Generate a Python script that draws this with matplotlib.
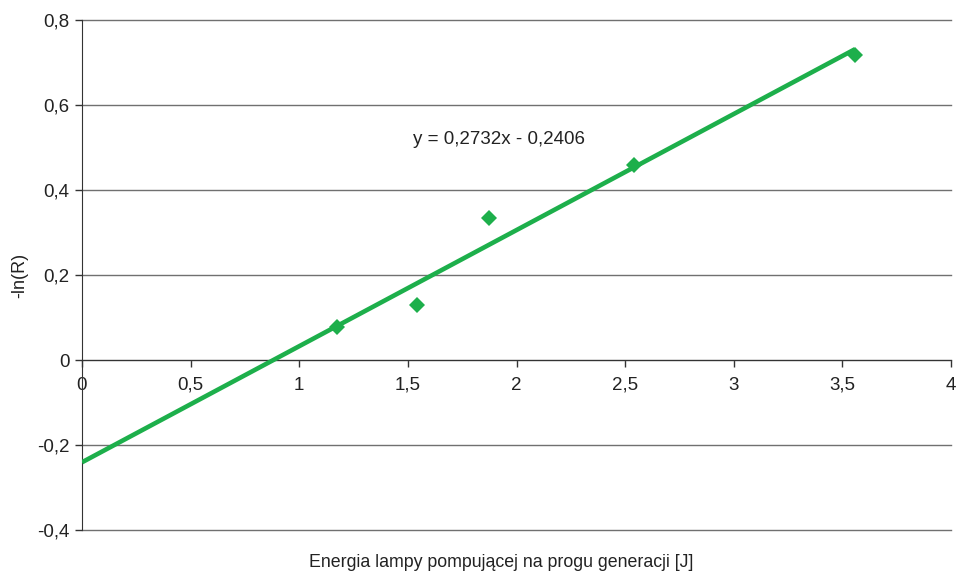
import numpy as np
import matplotlib
matplotlib.use("Agg")
import matplotlib.pyplot as plt
from matplotlib.ticker import FuncFormatter, MultipleLocator

plt.rcParams['font.family'] = ['Liberation Sans', 'DejaVu Sans']

# Measured points
energy = [1.174, 1.542, 1.873, 2.541, 3.558]
neg_ln_r = [0.078, 0.129, 0.334, 0.459, 0.718]

# Linear trend line shown on the chart
slope = 0.2732
intercept = -0.2406
trend_label = "y = 0,2732x - 0,2406"

x_label = "Energia lampy pompującej na progu generacji [J]"
y_label = "-ln(R)"

GREEN = "#1DAF4B"
GRID = "#707070"


def comma_fmt(v, pos):
    s = f"{v:g}"
    if s == "-0":
        s = "0"
    return s.replace(".", ",")


fig = plt.figure(figsize=(9.59, 5.73), dpi=100)
ax = fig.add_axes([0.0855, 0.075, 0.9062, 0.89])

x_fit = np.array([0.0, max(energy)])
ax.plot(x_fit, slope * x_fit + intercept, color=GREEN, lw=3.3, solid_capstyle='butt', zorder=3)
ax.plot(energy, neg_ln_r, linestyle='none', marker='D', markersize=8.5,
        color=GREEN, markeredgewidth=0, zorder=4)

ax.set_xlim(0, 4)
ax.set_ylim(-0.4, 0.8)
ax.xaxis.set_major_locator(MultipleLocator(0.5))
ax.yaxis.set_major_locator(MultipleLocator(0.2))
ax.xaxis.set_major_formatter(FuncFormatter(comma_fmt))
ax.yaxis.set_major_formatter(FuncFormatter(comma_fmt))

ax.yaxis.grid(True, color=GRID, lw=1)
for gl in ax.get_ygridlines():
    gl.set_clip_on(False)
ax.set_axisbelow(True)

for side in ('top', 'right'):
    ax.spines[side].set_visible(False)
ax.spines['bottom'].set_position(('data', 0))
ax.spines['bottom'].set_color('#333333')
ax.spines['left'].set_color('#333333')
ax.spines['bottom'].set_zorder(2)

ax.tick_params(axis='both', labelsize=13.5, color='#333333', length=5, width=1,
               direction='out', labelcolor='#222222')
ax.tick_params(axis='y', pad=4)
ax.tick_params(axis='x', pad=7)

ax.text(1.523, 0.52, trend_label, fontsize=13.5, color='#222222', va='center', ha='left')

fig.text(0.5224, 0.019, x_label, fontsize=12.8, color='#222222', ha='center', va='center')
fig.text(0.021, 0.52, y_label, fontsize=13, color='#222222', ha='center', va='center',
         rotation=90)

fig.savefig("out.png", dpi=100)
